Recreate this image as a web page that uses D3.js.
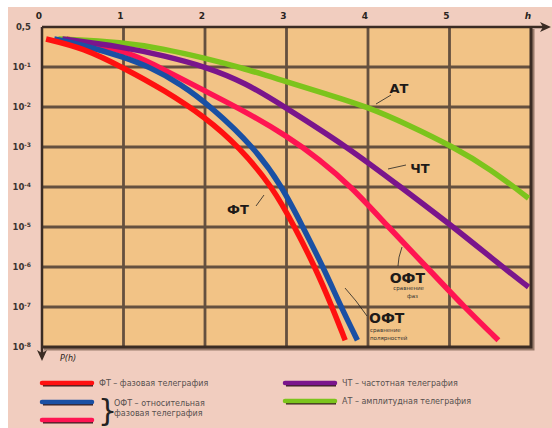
<!DOCTYPE html>
<html>
<head>
<meta charset="utf-8">
<script src="https://cdn.jsdelivr.net/npm/d3@7"></script>
<style>
  body { margin: 0; background: #fff; }
  svg { display: block; font-family: "DejaVu Sans", "Liberation Sans", sans-serif; }
</style>
</head>
<body>
<svg id="chart" width="552" height="428"></svg>
<script>
"use strict";

/* values: h, and lg P(h) */
const hTicks = [0, 1, 2, 3, 4, 5];
const pTicks = [1, 1e-1, 1e-2, 1e-3, 1e-4, 1e-5, 1e-6, 1e-7, 1e-8];
const pTickLabels = ["0,5", "10|-1", "10|-2", "10|-3", "10|-4", "10|-5", "10|-6", "10|-7", "10|-8"];

const ftH  = [0.05, 0.5, 1.0, 1.5, 2.0, 2.42, 2.83, 3.1, 3.35, 3.56, 3.72];
const ftLg = [-0.3, -0.52, -1.02, -1.58, -2.25, -3, -4, -5, -6, -7, -7.83];

const ofpH  = [0.15, 0.5, 1, 1.32, 1.7, 2.08, 2.6, 2.95, 3.2, 3.45, 3.67, 3.87];
const ofpLg = [-0.3, -0.45, -0.75, -1, -1.42, -2, -3, -4, -5, -6, -7, -7.83];

const ofH  = [0.3, 1, 1.32, 2, 2.5, 3, 3.4, 3.8, 4.25, 4.72, 5.18, 5.6];
const ofLg = [-0.3, -0.58, -0.88, -1.6, -2.12, -2.72, -3.3, -4, -5, -6, -7, -7.83];

const chtH  = [0.25, 1, 1.5, 2.02, 2.5, 2.94, 3.75, 4.4, 5.05, 5.65, 5.97];
const chtLg = [-0.3, -0.5, -0.72, -1, -1.4, -1.95, -3, -4, -5, -6, -6.5];

const atH  = [0.2, 1, 1.5, 2, 2.42, 3, 3.5, 4, 4.5, 5.05, 5.5, 5.97];
const atLg = [-0.3, -0.38, -0.55, -0.78, -1, -1.37, -1.68, -2, -2.45, -3, -3.55, -4.28];

const series = [
  {name: "ОФТ фаз", h: ofH,  lg: ofLg,  colour: "#ff1452"},
  {name: "АТ",      h: atH,  lg: atLg,  colour: "#7cc41c"},
  {name: "ЧТ",      h: chtH, lg: chtLg, colour: "#7a158c"},
  {name: "ОФТ пол", h: ofpH, lg: ofpLg, colour: "#1a50a4"},
  {name: "ФТ",      h: ftH,  lg: ftLg,  colour: "#ff1010"}
];

const svg = d3.select("#chart");
const pink = "#f1cdbf";
const gridColour = "#65503f";

svg.append("rect").attr("x", 8).attr("y", 7).attr("width", 544).attr("height", 421).attr("fill", pink);

const x = d3.scaleLinear().domain([0, 6]).range([42, 531]);
const y = d3.scaleLog().domain([1, 1e-8]).range([27, 347]);

/* plot area */
svg.append("rect")
   .attr("x", x(0)).attr("y", y(1))
   .attr("width", x(6) - x(0)).attr("height", y(1e-8) - y(1))
   .attr("fill", "#f2c386");

/* grid */
svg.append("g")
   .selectAll("line")
   .data(hTicks.slice(1))
   .enter()
   .append("line")
   .attr("x1", d => x(d)).attr("x2", d => x(d))
   .attr("y1", y(1)).attr("y2", y(1e-8))
   .attr("stroke", gridColour).attr("stroke-width", 2.8);

svg.append("g")
   .selectAll("line")
   .data(pTicks.slice(1, -1))
   .enter()
   .append("line")
   .attr("x1", x(0)).attr("x2", x(6))
   .attr("y1", d => y(d)).attr("y2", d => y(d))
   .attr("stroke", gridColour).attr("stroke-width", 2.8);

/* frame: shadow on the right and bottom */
svg.append("path")
   .attr("d", `M${x(6) + 2},${y(1) + 2}V${y(1e-8) + 2}H${x(0) + 2}`)
   .attr("fill", "none").attr("stroke", "#9a7c6c").attr("stroke-width", 3);
svg.append("path")
   .attr("d", `M${x(6)},${y(1)}V${y(1e-8)}H${x(0)}`)
   .attr("fill", "none").attr("stroke", "#3b2c24").attr("stroke-width", 3);

/* axes with arrows */
svg.append("line")
   .attr("x1", x(0)).attr("x2", 544).attr("y1", y(1)).attr("y2", y(1))
   .attr("stroke", "#3b2c24").attr("stroke-width", 2.5);
svg.append("path")
   .attr("d", `M551,${y(1)}L540,${y(1) - 5}L543,${y(1)}L540,${y(1) + 5}Z`)
   .attr("fill", "#3b2c24");
svg.append("line")
   .attr("x1", x(0)).attr("x2", x(0)).attr("y1", y(1)).attr("y2", 354)
   .attr("stroke", "#3b2c24").attr("stroke-width", 2.5);
svg.append("path")
   .attr("d", `M${x(0)},361L${x(0) - 5},350L${x(0)},353L${x(0) + 5},350Z`)
   .attr("fill", "#3b2c24");

/* tick labels */
svg.append("g")
   .selectAll("text")
   .data(hTicks)
   .enter()
   .append("text")
   .attr("x", d => x(d) - 3)
   .attr("y", 19)
   .attr("text-anchor", "middle")
   .style("font-size", "9px").style("font-weight", "bold").attr("fill", "#2a2420")
   .text(d => d);
svg.append("text")
   .attr("x", x(6) - 3).attr("y", 19).attr("text-anchor", "middle")
   .style("font-size", "9px").style("font-weight", "bold").style("font-style", "italic")
   .attr("fill", "#2a2420").text("h");

const yLabels = svg.append("g")
   .selectAll("text")
   .data(pTicks)
   .enter()
   .append("text")
   .attr("x", 31)
   .attr("y", d => y(d) + 3)
   .attr("text-anchor", "end")
   .style("font-size", "8.5px").style("font-weight", "bold").attr("fill", "#3a3430");
yLabels.each(function(d, i) {
  const parts = pTickLabels[i].split("|");
  const t = d3.select(this);
  t.append("tspan").text(parts[0]);
  if (parts[1]) {
    t.append("tspan").attr("dy", -3).style("font-size", "6px").text(parts[1]);
  }
});

svg.append("text")
   .attr("x", 60).attr("y", 361)
   .style("font-size", "8px").style("font-style", "italic").attr("fill", "#2a2420")
   .text("P(h)");

/* curves */
const line = d3.line()
  .x(d => x(d[0]))
  .y(d => y(Math.pow(10, d[1])))
  .curve(d3.curveBasis);

svg.append("g")
   .selectAll("path")
   .data(series)
   .enter()
   .append("path")
   .attr("d", d => line(d.h.map((h, i) => [h, d.lg[i]])))
   .attr("fill", "none")
   .attr("stroke", d => d.colour)
   .attr("stroke-width", 5.5);

/* curve labels and leaders */
const leaders = svg.append("g").attr("fill", "none").attr("stroke", "#222").attr("stroke-width", 0.8);
leaders.append("path").attr("d", "M391,95L376,104");
leaders.append("path").attr("d", "M406,165L388,169");
leaders.append("path").attr("d", "M256,206L264,195");
leaders.append("path").attr("d", "M402,247Q398,258 398,266");
leaders.append("path").attr("d", "M367,316Q356,300 345,288");

const labelStyle = t => t.attr("fill", "#1e1a18").style("font-weight", "bold");
labelStyle(svg.append("text").attr("x", 399).attr("y", 93).attr("text-anchor", "middle").style("font-size", "13px").text("АТ"));
labelStyle(svg.append("text").attr("x", 420).attr("y", 173).attr("text-anchor", "middle").style("font-size", "13px").text("ЧТ"));
labelStyle(svg.append("text").attr("x", 238).attr("y", 214).attr("text-anchor", "middle").style("font-size", "13px").text("ФТ"));
labelStyle(svg.append("text").attr("x", 425).attr("y", 283).attr("text-anchor", "end").style("font-size", "14px").text("ОФТ"));
svg.append("text").attr("x", 424).attr("y", 290).attr("text-anchor", "end").style("font-size", "5.5px").attr("fill", "#333").text("сравнение");
svg.append("text").attr("x", 418).attr("y", 298).attr("text-anchor", "end").style("font-size", "5.5px").attr("fill", "#333").text("фаз");
labelStyle(svg.append("text").attr("x", 369).attr("y", 323).style("font-size", "14px").text("ОФТ"));
svg.append("text").attr("x", 370).attr("y", 332).style("font-size", "5.5px").attr("fill", "#333").text("сравнение");
svg.append("text").attr("x", 370).attr("y", 340).style("font-size", "5.5px").attr("fill", "#333").text("полярностей");

/* legend */
const legendItems = [
  {colour: "#ff1010", x: 42,  y: 383, text: "ФТ – фазовая телеграфия"},
  {colour: "#1a50a4", x: 42,  y: 402, text: null},
  {colour: "#ff1452", x: 42,  y: 420, text: null},
  {colour: "#7a158c", x: 285, y: 383, text: "ЧТ – частотная телеграфия"},
  {colour: "#7cc41c", x: 285, y: 401, text: "АТ – амплитудная телеграфия"}
];
const lg = svg.append("g");
lg.selectAll("line.shadow")
  .data(legendItems)
  .enter()
  .append("line")
  .attr("class", "shadow")
  .attr("x1", d => d.x + 1).attr("x2", d => d.x + 51)
  .attr("y1", d => d.y + 1.5).attr("y2", d => d.y + 1.5)
  .attr("stroke", "#3a2020").attr("stroke-width", 4);
lg.selectAll("line.swatch")
  .data(legendItems)
  .enter()
  .append("line")
  .attr("class", "swatch")
  .attr("x1", d => d.x).attr("x2", d => d.x + 50)
  .attr("y1", d => d.y).attr("y2", d => d.y)
  .attr("stroke", d => d.colour).attr("stroke-width", 4.5)
  .attr("stroke-linecap", "round");
lg.selectAll("text")
  .data(legendItems.filter(d => d.text))
  .enter()
  .append("text")
  .attr("x", d => d.x + 57).attr("y", d => d.y + 3)
  .style("font-size", "8px").attr("fill", "#56504e")
  .text(d => d.text);
lg.append("text").attr("x", 98).attr("y", 421)
  .style("font-size", "30px").attr("fill", "#222").text("}");
lg.append("text").attr("x", 114).attr("y", 406)
  .style("font-size", "8px").attr("fill", "#56504e").text("ОФТ – относительная");
lg.append("text").attr("x", 114).attr("y", 416)
  .style("font-size", "8px").attr("fill", "#56504e").text("фазовая телеграфия");
</script>
</body>
</html>
